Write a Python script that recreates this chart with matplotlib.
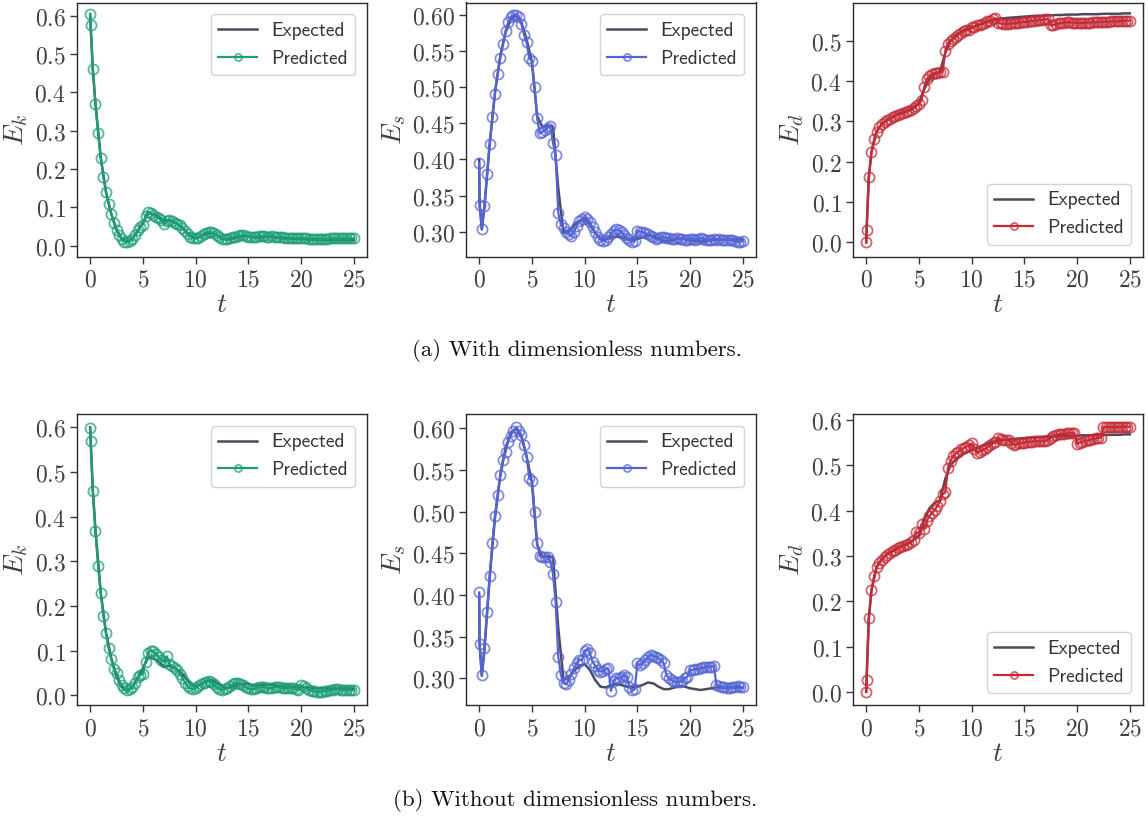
import numpy as np
import matplotlib
matplotlib.use("Agg")
import matplotlib.pyplot as plt
from matplotlib.ticker import FormatStrFormatter
from matplotlib.colors import to_rgba

plt.rcParams['mathtext.fontset'] = 'cm'

# ---------------- data ----------------
# Expected (ground truth) series: t = 0, 0.04, 0.25, then every 0.5 up to 25
exp_Ek = [0.600, 0.575, 0.460,
          0.370, 0.230, 0.140, 0.083, 0.042, 0.018, 0.010, 0.018, 0.038, 0.060,
          0.085, 0.082, 0.075, 0.064, 0.066, 0.061, 0.053, 0.040, 0.026, 0.020,
          0.024, 0.031, 0.034, 0.028, 0.019, 0.016, 0.019, 0.023, 0.026, 0.025,
          0.022, 0.021, 0.023, 0.024, 0.022, 0.020, 0.019, 0.019, 0.018, 0.018,
          0.017, 0.016, 0.016, 0.016, 0.015, 0.015, 0.015, 0.015, 0.015, 0.015]
exp_Es = [0.400, 0.340, 0.303,
          0.335, 0.422, 0.493, 0.543, 0.576, 0.594, 0.600, 0.590, 0.566, 0.535,
          0.460, 0.445, 0.447, 0.445, 0.360, 0.298, 0.301, 0.309, 0.315, 0.317,
          0.310, 0.298, 0.290, 0.289, 0.292, 0.293, 0.292, 0.290, 0.289, 0.290,
          0.292, 0.295, 0.294, 0.290, 0.287, 0.287, 0.289, 0.291, 0.290, 0.288,
          0.287, 0.286, 0.287, 0.288, 0.289, 0.289, 0.289, 0.289, 0.289, 0.289]
exp_Ed = [0.000, 0.030, 0.162,
          0.224, 0.275, 0.294, 0.304, 0.311, 0.318, 0.323, 0.328, 0.335, 0.345,
          0.380, 0.405, 0.417, 0.423, 0.470, 0.500, 0.513, 0.522, 0.528, 0.533,
          0.538, 0.543, 0.547, 0.551, 0.554, 0.556, 0.557, 0.558, 0.559, 0.560,
          0.561, 0.562, 0.562, 0.563, 0.563, 0.564, 0.564, 0.565, 0.565, 0.565,
          0.566, 0.566, 0.566, 0.566, 0.567, 0.567, 0.567, 0.567, 0.568, 0.568]

# Predicted series: t = 0, 0.04, then every 0.25 up to 25
pred_Ek_a = [0.605, 0.575,
             0.460, 0.370, 0.293, 0.230, 0.180, 0.140, 0.110, 0.083,
             0.060, 0.040, 0.027, 0.017, 0.011, 0.009, 0.012, 0.018,
             0.028, 0.040, 0.050, 0.055, 0.078, 0.088, 0.085, 0.080,
             0.076, 0.072, 0.066, 0.058, 0.064, 0.068, 0.064, 0.060,
             0.057, 0.053, 0.046, 0.038, 0.030, 0.024, 0.020, 0.019,
             0.021, 0.025, 0.030, 0.034, 0.036, 0.036, 0.033, 0.028,
             0.022, 0.018, 0.017, 0.018, 0.020, 0.022, 0.024, 0.026,
             0.027, 0.027, 0.026, 0.024, 0.023, 0.023, 0.024, 0.025,
             0.025, 0.025, 0.024, 0.024, 0.025, 0.024, 0.023, 0.022,
             0.022, 0.021, 0.020, 0.020, 0.019, 0.019, 0.019, 0.019,
             0.019, 0.019, 0.018, 0.018, 0.018, 0.018, 0.018, 0.018,
             0.018, 0.018, 0.019, 0.019, 0.019, 0.019, 0.019, 0.019,
             0.019, 0.019, 0.019, 0.019]
pred_Es_a = [0.395, 0.337,
             0.303, 0.335, 0.380, 0.422, 0.459, 0.491, 0.519, 0.541,
             0.560, 0.578, 0.590, 0.597, 0.600, 0.600, 0.598, 0.588,
             0.573, 0.562, 0.540, 0.537, 0.500, 0.457, 0.436, 0.438,
             0.441, 0.444, 0.446, 0.423, 0.406, 0.326, 0.310, 0.305,
             0.300, 0.296, 0.294, 0.300, 0.308, 0.314, 0.317, 0.320,
             0.318, 0.313, 0.306, 0.299, 0.293, 0.289, 0.287, 0.288,
             0.292, 0.297, 0.301, 0.303, 0.302, 0.299, 0.295, 0.291,
             0.288, 0.286, 0.287, 0.301, 0.300, 0.299, 0.298, 0.296,
             0.294, 0.292, 0.290, 0.291, 0.292, 0.292, 0.291, 0.291,
             0.290, 0.290, 0.291, 0.290, 0.290, 0.289, 0.289, 0.290,
             0.290, 0.289, 0.290, 0.291, 0.290, 0.289, 0.288, 0.289,
             0.290, 0.289, 0.290, 0.289, 0.288, 0.288, 0.289, 0.288,
             0.287, 0.286, 0.286, 0.287]
pred_Ed_a = [0.000, 0.030,
             0.162, 0.224, 0.256, 0.275, 0.285, 0.293, 0.298, 0.303,
             0.307, 0.311, 0.314, 0.317, 0.319, 0.321, 0.323, 0.326,
             0.329, 0.333, 0.338, 0.344, 0.352, 0.385, 0.405, 0.412,
             0.417, 0.420, 0.421, 0.422, 0.423, 0.475, 0.493, 0.500,
             0.505, 0.510, 0.515, 0.520, 0.524, 0.526, 0.527, 0.533,
             0.535, 0.538, 0.540, 0.542, 0.545, 0.548, 0.550, 0.553,
             0.556, 0.545, 0.543, 0.542, 0.542, 0.542, 0.543, 0.543,
             0.544, 0.545, 0.546, 0.547, 0.547, 0.548, 0.549, 0.550,
             0.551, 0.551, 0.552, 0.553, 0.554, 0.538, 0.539, 0.541,
             0.543, 0.544, 0.545, 0.546, 0.546, 0.545, 0.545, 0.544,
             0.544, 0.544, 0.545, 0.545, 0.545, 0.546, 0.546, 0.546,
             0.546, 0.547, 0.547, 0.547, 0.548, 0.548, 0.548, 0.549,
             0.549, 0.549, 0.550, 0.550]
pred_Ek_b = [0.598, 0.570,
             0.457, 0.367, 0.290, 0.228, 0.178, 0.139, 0.105, 0.080,
             0.058, 0.050, 0.033, 0.022, 0.015, 0.012, 0.013, 0.018,
             0.027, 0.040, 0.045, 0.048, 0.075, 0.095, 0.100, 0.098,
             0.092, 0.085, 0.078, 0.075, 0.087, 0.070, 0.065, 0.062,
             0.056, 0.048, 0.038, 0.028, 0.020, 0.015, 0.014, 0.016,
             0.020, 0.024, 0.028, 0.030, 0.031, 0.029, 0.024, 0.018,
             0.014, 0.012, 0.013, 0.016, 0.020, 0.024, 0.027, 0.027,
             0.025, 0.022, 0.018, 0.015, 0.013, 0.014, 0.016, 0.018,
             0.019, 0.018, 0.016, 0.015, 0.016, 0.018, 0.019, 0.018,
             0.016, 0.015, 0.016, 0.017, 0.015, 0.013, 0.012, 0.022,
             0.020, 0.015, 0.012, 0.010, 0.009, 0.008, 0.008, 0.008,
             0.009, 0.010, 0.011, 0.012, 0.013, 0.013, 0.012, 0.012,
             0.012, 0.012, 0.011, 0.011]
pred_Es_b = [0.403, 0.341,
             0.304, 0.336, 0.380, 0.423, 0.462, 0.495, 0.520, 0.544,
             0.562, 0.571, 0.584, 0.591, 0.597, 0.601, 0.597, 0.592,
             0.580, 0.566, 0.540, 0.537, 0.500, 0.462, 0.447, 0.446,
             0.446, 0.445, 0.440, 0.425, 0.391, 0.326, 0.304, 0.294,
             0.293, 0.298, 0.305, 0.312, 0.318, 0.322, 0.322, 0.333,
             0.335, 0.330, 0.320, 0.315, 0.310, 0.308, 0.309, 0.311,
             0.312, 0.285, 0.297, 0.300, 0.300, 0.301, 0.304, 0.301,
             0.290, 0.286, 0.287, 0.318, 0.316, 0.318, 0.322, 0.325,
             0.328, 0.327, 0.326, 0.324, 0.322, 0.318, 0.304, 0.300,
             0.298, 0.296, 0.295, 0.296, 0.297, 0.300, 0.302, 0.310,
             0.310, 0.311, 0.311, 0.312, 0.313, 0.313, 0.314, 0.314,
             0.315, 0.292, 0.291, 0.290, 0.289, 0.288, 0.288, 0.289,
             0.290, 0.291, 0.290, 0.289]
pred_Ed_b = [0.000, 0.027,
             0.163, 0.224, 0.256, 0.276, 0.285, 0.292, 0.298, 0.303,
             0.307, 0.310, 0.313, 0.318, 0.320, 0.322, 0.324, 0.327,
             0.330, 0.335, 0.352, 0.350, 0.370, 0.360, 0.378, 0.388,
             0.395, 0.402, 0.410, 0.420, 0.436, 0.440, 0.493, 0.510,
             0.520, 0.526, 0.530, 0.535, 0.538, 0.541, 0.544, 0.548,
             0.535, 0.528, 0.530, 0.533, 0.536, 0.540, 0.544, 0.548,
             0.552, 0.560, 0.557, 0.555, 0.556, 0.556, 0.550, 0.545,
             0.546, 0.548, 0.549, 0.550, 0.551, 0.552, 0.552, 0.553,
             0.553, 0.553, 0.553, 0.554, 0.556, 0.560, 0.565, 0.567,
             0.568, 0.569, 0.569, 0.570, 0.570, 0.571, 0.570, 0.547,
             0.550, 0.552, 0.553, 0.555, 0.556, 0.558, 0.559, 0.560,
             0.561, 0.585, 0.584, 0.584, 0.584, 0.584, 0.584, 0.584,
             0.584, 0.585, 0.585, 0.585]

y_labels = [r'$E_k$', r'$E_s$', r'$E_d$']
captions = ['(a) With dimensionless numbers.', '(b) Without dimensionless numbers.']
legend_labels = ['Expected', 'Predicted']


def t_expected(n):
    return np.concatenate([[0.0, 0.04, 0.25], 0.5 * np.arange(1, n - 2)])


def t_predicted(n):
    return np.concatenate([[0.0, 0.04], 0.25 * np.arange(1, n - 1)])


# ---------------- style ----------------
C_EXP = '#4b4b5e'
COLORS = ['#1b9e77', '#5464d4', '#c52a35']
TICK_COLOR = '#3a3a3a'
SPINE_COLOR = '#2a2a2a'

W, H = 1148, 825
fig = plt.figure(figsize=(W / 100, H / 100), dpi=100)

col_left = [77, 466, 853]
ax_w = 290
rows = [(2.5, 256.5), (414, 705)]
ylims = [
    [(-0.028, 0.634), (0.2655, 0.6174), (-0.035, 0.595)],
    [(-0.022, 0.630), (0.268, 0.617), (-0.029, 0.613)],
]
yticks = [
    [np.arange(0, 0.61, 0.1), np.arange(0.30, 0.601, 0.05), np.arange(0, 0.51, 0.1)],
    [np.arange(0, 0.61, 0.1), np.arange(0.30, 0.601, 0.05), np.arange(0, 0.61, 0.1)],
]
fmts = ['$%.1f$', '$%.2f$', '$%.1f$']
legend_locs = ['upper right', 'upper right', 'lower right']

expected = [exp_Ek, exp_Es, exp_Ed]
predicted = [[pred_Ek_a, pred_Es_a, pred_Ed_a], [pred_Ek_b, pred_Es_b, pred_Ed_b]]

for r, (top, bot) in enumerate(rows):
    for c in range(3):
        ax = fig.add_axes([col_left[c] / W, 1 - bot / H, ax_w / W, (bot - top) / H])
        ye = np.array(expected[c])
        yp = np.array(predicted[r][c])
        ax.plot(t_expected(len(ye)), ye, color=C_EXP, lw=1.8, label=legend_labels[0], zorder=2)
        col = COLORS[c]
        ax.plot(t_predicted(len(yp)), yp, color=col, lw=1.6, marker='o', ms=7.3,
                mfc='none', mec=to_rgba(col, 0.75), mew=1.25,
                label=legend_labels[1], zorder=3)
        ax.set_xlim(-1.25, 26.25)
        ax.set_ylim(*ylims[r][c])
        ax.set_xticks([0, 5, 10, 15, 20, 25])
        ax.xaxis.set_major_formatter(FormatStrFormatter('$%d$'))
        ax.set_yticks(yticks[r][c])
        ax.yaxis.set_major_formatter(FormatStrFormatter(fmts[c]))
        ax.tick_params(axis='both', which='major', labelsize=17, length=5, width=1.0,
                       color=TICK_COLOR, labelcolor='#404040', pad=3, direction='out')
        for sp in ax.spines.values():
            sp.set_color(SPINE_COLOR)
            sp.set_linewidth(1.0)
        ax.set_xlabel('$t$', fontsize=20, color='#404040', labelpad=-1)
        ax.set_ylabel(y_labels[c], fontsize=20, color='#404040', labelpad=3)
        leg = ax.legend(loc=legend_locs[c], prop={'family': 'cmss10', 'size': 14},
                        frameon=True, fancybox=True, framealpha=0.9,
                        edgecolor='#d0d0d0', markerscale=0.7, handlelength=2.0,
                        handletextpad=0.7, borderaxespad=0.6)
        for txt in leg.get_texts():
            txt.set_color('#333333')

fig.text(577 / W, 1 - 350 / H, captions[0], ha='center', va='center',
         fontsize=16.5, family='cmr10', color='#111111')
fig.text(575 / W, 1 - 800 / H, captions[1], ha='center', va='center',
         fontsize=16.5, family='cmr10', color='#111111')

fig.savefig('out.png', dpi=100, facecolor='white')
